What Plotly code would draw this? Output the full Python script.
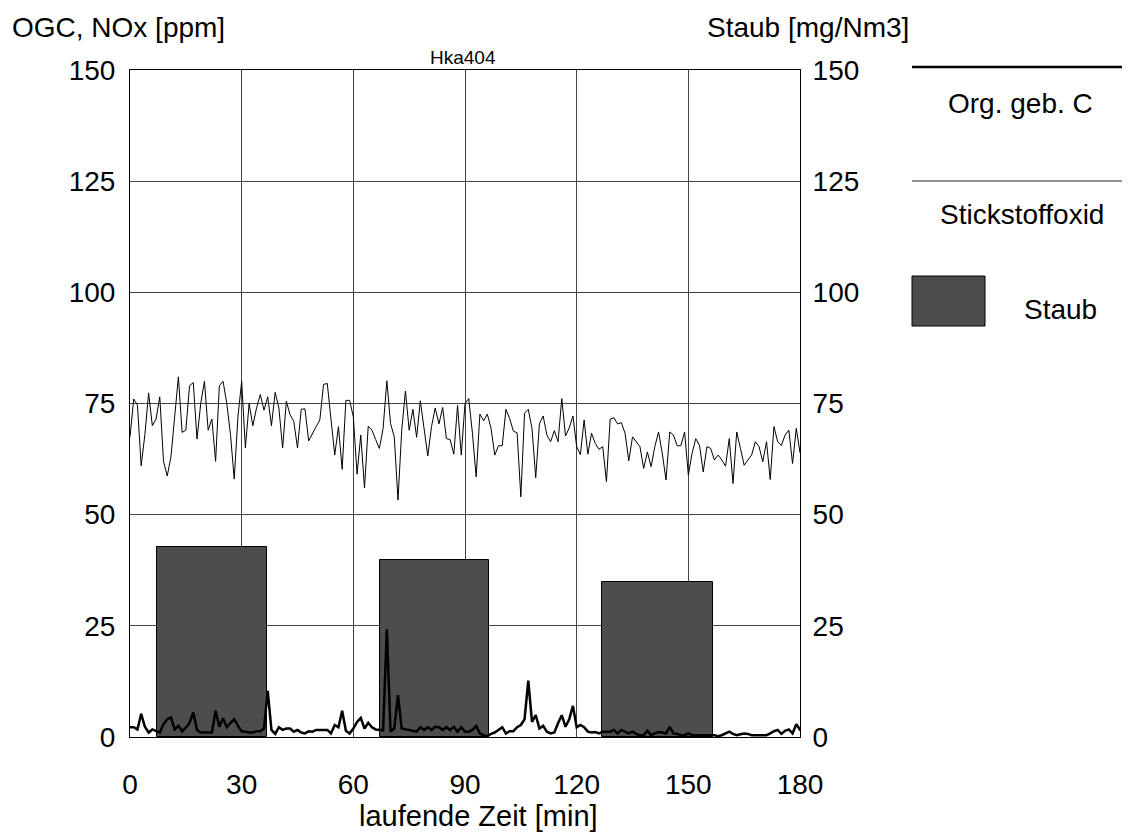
import plotly.graph_objects as go

# --- data ---------------------------------------------------------------
minutes = list(range(0, 183))

nox_ppm = [
    67.5, 76, 74.6, 61, 68, 77.4, 70, 71.5, 76.5, 62, 58.7, 63, 72, 81, 68.5, 69, 79, 79.7, 67, 75,
    80, 69, 71.5, 62, 79, 80, 75, 68, 58, 72, 80, 65, 75, 70, 74, 77, 73.5, 76.5, 70, 77.5,
    74, 65, 75.5, 72.5, 71, 65, 73.7, 73.8, 66.6, 68.3, 69.8, 71.3, 79.3, 79.5, 71.3, 63.4, 69.8, 60.2, 75.7, 75.7,
    72, 59.1, 67.9, 56, 69.9, 69, 66.9, 64.9, 69.4, 80.1, 70.5, 67.5, 53.3, 69, 77.8, 69, 73.7, 67.4, 75.6, 69.4,
    63.2, 69.8, 74, 70.4, 74.1, 67.1, 66.9, 63.6, 74.6, 63.4, 75, 76.1, 68.3, 58.5, 72.6, 71.1, 72.6, 69.4, 63.4, 65.5,
    65.5, 73.7, 71.6, 68.8, 68.4, 54, 72.8, 73.7, 69.4, 58.3, 70.5, 72.2, 67.9, 66.4, 68.9, 66.4, 76.1, 67.7, 69.5, 72.2,
    65.3, 63.5, 71.3, 63.6, 68.3, 66, 64.7, 65.3, 57.4, 71.5, 71.8, 70.4, 70.7, 68.3, 62.1, 67.5, 66.5, 65.3, 60.4, 64.1,
    60.8, 65.3, 68.6, 63.8, 57.8, 68.6, 67.9, 65.5, 65.5, 68.6, 58.9, 63.8, 67.1, 65.6, 59.6, 65.3, 64.9, 62.3, 63.4, 62.3,
    60.9, 67.1, 57, 68.6, 64.9, 61.1, 62.3, 63.4, 66.4, 65.3, 61.9, 66.4, 57.9, 69.8, 66.4, 65.6, 67.9, 69, 61.5, 69.4,
    64, 71, 67,
]

ogc_ppm = [
    2.2, 2.2, 1.7, 5.2, 2.3, 1.0, 1.7, 1.3, 1.0, 2.9, 4.0, 4.4, 1.7, 2.5, 1.3, 2.1, 3.2, 5.5, 1.6, 1.0,
    1.0, 1.0, 1.0, 5.9, 2.3, 4.2, 2.2, 3.2, 4.0, 2.5, 1.3, 1.2, 1.0, 1.0, 1.3, 1.3, 1.9, 10.4, 1.6, 0.7,
    2.2, 1.6, 1.9, 1.9, 1.2, 1.6, 1.0, 0.8, 1.3, 1.2, 1.6, 1.6, 1.6, 1.6, 0.8, 2.7, 2.2, 5.9, 1.4, 0.8,
    1.9, 3.4, 4.3, 1.9, 3.2, 2.2, 1.7, 1.6, 1.5, 24.2, 1.2, 1.9, 9.4, 1.9, 1.7, 1.6, 1.4, 1.2, 2.2, 1.6,
    2.2, 1.6, 2.3, 2.2, 1.6, 2.2, 1.6, 2.3, 1.2, 2.2, 1.2, 1.2, 1.6, 2.5, 0.8, 0.4, 0.2, 0.7, 1.0, 1.6,
    2.2, 0.8, 1.3, 1.3, 2.2, 2.7, 4.0, 12.7, 3.4, 4.9, 1.9, 2.5, 1.2, 0.8, 1.0, 3.1, 4.9, 2.3, 4.0, 7.0,
    2.2, 2.7, 2.2, 1.2, 1.0, 1.1, 0.8, 1.2, 1.2, 1.2, 1.6, 0.8, 1.6, 1.2, 0.8, 1.2, 0.7, 0.4, 0.4, 1.4,
    0.4, 0.8, 1.1, 1.0, 0.8, 2.3, 0.8, 0.7, 0.4, 0.4, 0.8, 0.4, 0.4, 0.4, 0.4, 0.4, 0.4, 0.4, 0.2, 0.4,
    0.8, 1.2, 0.7, 0.4, 0.6, 0.8, 0.7, 0.4, 0.4, 0.4, 0.4, 0.4, 0.8, 1.3, 1.6, 0.7, 1.4, 1.7, 0.8, 2.9,
    1.6, 1.4, 1.3,
]

staub_start = [7.3, 67.2, 126.9]
staub_end = [36.8, 96.5, 156.5]
staub_mg = [42.7, 39.8, 34.9]

x_ticks = [0, 30, 60, 90, 120, 150, 180]
y_ticks = [0, 25, 50, 75, 100, 125, 150]

# --- figure -------------------------------------------------------------
FONT = "Liberation Sans, Arial, sans-serif"
BAR_COLOR = "#4d4d4d"
FS = 28

staub_center = [(a + b) / 2 for a, b in zip(staub_start, staub_end)]
staub_width = [b - a for a, b in zip(staub_start, staub_end)]

fig = go.Figure()
fig.add_trace(go.Bar(
    x=staub_center, y=staub_mg, width=staub_width,
    marker=dict(color=BAR_COLOR, line=dict(color="black", width=1)),
    name="Staub", showlegend=False,
))
fig.add_trace(go.Scatter(
    x=minutes, y=nox_ppm, mode="lines",
    line=dict(color="black", width=1), name="Stickstoffoxid", showlegend=False,
))
fig.add_trace(go.Scatter(
    x=minutes, y=ogc_ppm, mode="lines",
    line=dict(color="black", width=2.5), name="Org. geb. C", showlegend=False,
))
# right axis (Staub) shares the same 0-150 scale
fig.add_trace(go.Scatter(
    x=staub_center, y=staub_mg, yaxis="y2", mode="markers",
    marker=dict(opacity=0), hoverinfo="skip", showlegend=False,
))

tickfont = dict(family=FONT, size=FS, color="black")

# page body has an 8px margin, so the figure is 8px narrower/shorter
fig.update_layout(
    width=1122, height=826,
    margin=dict(l=122, r=330, t=62, b=97),
    paper_bgcolor="white", plot_bgcolor="white",
    font=dict(family=FONT, color="black"),
    showlegend=False,
    bargap=0,
    xaxis=dict(
        range=[0, 180], tickvals=x_ticks, ticktext=[str(v) for v in x_ticks],
        showgrid=True, gridcolor="#444444", gridwidth=1,
        showline=True, linecolor="black", linewidth=1, mirror=True,
        ticks="", tickfont=tickfont, ticklabelstandoff=22, zeroline=False,
    ),
    yaxis=dict(
        range=[0, 150], tickvals=y_ticks, ticktext=[str(v) for v in y_ticks],
        showgrid=True, gridcolor="#444444", gridwidth=1,
        showline=True, linecolor="black", linewidth=1, mirror=True,
        ticks="", tickfont=tickfont, ticklabelstandoff=8, zeroline=False,
    ),
    yaxis2=dict(
        range=[0, 150], tickvals=y_ticks, ticktext=[str(v) for v in y_ticks],
        overlaying="y", side="right", showgrid=False, zeroline=False,
        showline=True, linecolor="black", linewidth=1,
        ticks="", tickfont=tickfont, ticklabelstandoff=6,
    ),
)

W, H = 670.0, 667.0
def px(x):
    return (x - 130) / W
def py(y):
    return (737 - y) / H

ann = [
    dict(text="OGC, NOx [ppm]", x=px(10), y=py(27), xanchor="left", size=FS),
    dict(text="Staub [mg/Nm3]", x=px(911), y=py(27), xanchor="right", size=FS),
    dict(text="Hka404", x=px(463), y=py(58), xanchor="center", size=19),
    dict(text="laufende Zeit [min]", x=px(478), y=py(816), xanchor="center", size=29),
    dict(text="Org. geb. C", x=px(1021), y=py(103), xanchor="center", size=FS),
    dict(text="Stickstoffoxid", x=px(1022), y=py(214), xanchor="center", size=FS),
    dict(text="Staub", x=px(1060), y=py(309), xanchor="center", size=FS),
]
for a in ann:
    fig.add_annotation(
        text=a["text"], x=a["x"], y=a["y"], xref="paper", yref="paper",
        xanchor=a["xanchor"], yanchor="middle", showarrow=False,
        font=dict(family=FONT, size=a["size"], color="black"),
    )

# legend symbols
fig.add_shape(type="line", xref="paper", yref="paper",
              x0=px(912), x1=px(1130), y0=py(67), y1=py(67),
              line=dict(color="black", width=2.5))
fig.add_shape(type="line", xref="paper", yref="paper",
              x0=px(912), x1=px(1130), y0=py(181), y1=py(181),
              line=dict(color="#222222", width=1))
fig.add_shape(type="rect", xref="paper", yref="paper",
              x0=px(912), x1=px(985), y0=py(326), y1=py(276),
              fillcolor=BAR_COLOR, line=dict(color="black", width=1))

fig.write_html("out.html")
